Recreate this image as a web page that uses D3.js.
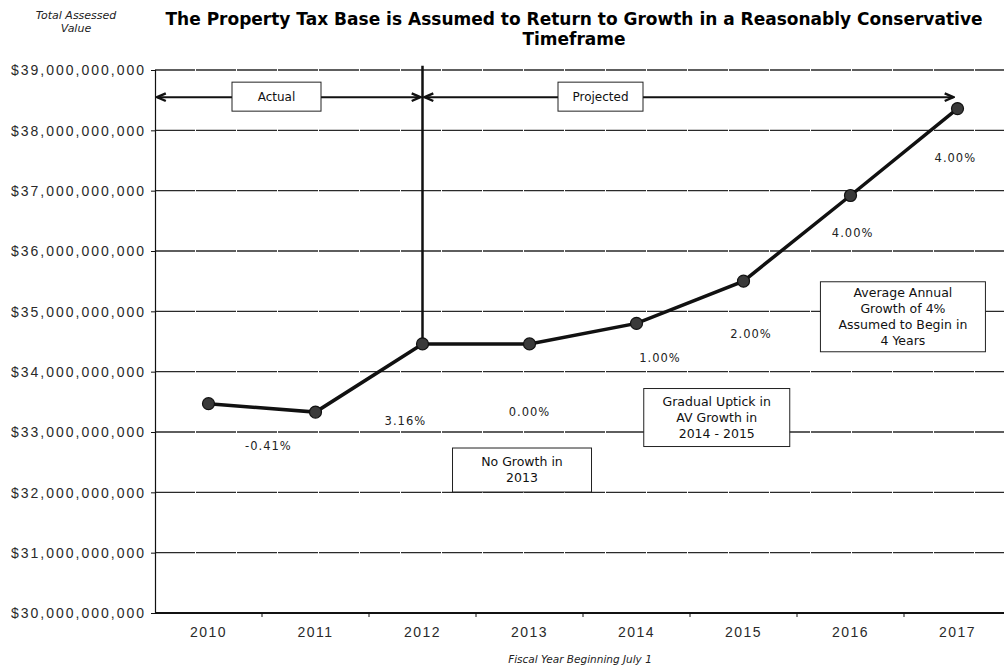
<!DOCTYPE html>
<html>
<head>
<meta charset="utf-8">
<script src="https://cdn.jsdelivr.net/npm/d3@7"></script>
<style>
  body { margin: 0; background: #fff; }
  svg { display: block; font-family: "DejaVu Sans", sans-serif; }
  .tick-label { fill: #2a2a2a; font-size: 14px; letter-spacing: 2px; }
  .xtick-label { fill: #2a2a2a; font-size: 14px; letter-spacing: 1.5px; }
  .growth { fill: #222; font-size: 11.5px; letter-spacing: 1px; }
  .box-text { fill: #111; font-size: 12.5px; }
</style>
</head>
<body>
<div id="chart"></div>
<script>
// data
const years = ["2010", "2011", "2012", "2013", "2014", "2015", "2016", "2017"];
const assessedValue = [33.47e9, 33.33e9, 34.46e9, 34.46e9, 34.80e9, 35.50e9, 36.92e9, 38.36e9];
const growthLabels = ["-0.41%", "3.16%", "0.00%", "1.00%", "2.00%", "4.00%", "4.00%"];
const yTicks = [30e9, 31e9, 32e9, 33e9, 34e9, 35e9, 36e9, 37e9, 38e9, 39e9];

const width = 1006, height = 672;
const margin = {top: 70, right: 2, bottom: 59, left: 155};

const svg = d3.select("#chart").append("svg")
    .attr("width", width)
    .attr("height", height);

// scales
const x = d3.scaleBand()
    .domain(years)
    .range([margin.left, margin.left + 856]);
const xc = d => x(d) + x.bandwidth() / 2;
const xi = i => x(years[0]) + x.bandwidth() * (i + 0.5);   // fractional category index
const y = d3.scaleLinear()
    .domain([30e9, 39e9])
    .range([height - margin.bottom, margin.top]);
const plotRight = width - margin.right;

// title
svg.append("text")
    .attr("x", 574).attr("y", 25)
    .attr("text-anchor", "middle")
    .style("font-size", "17px").style("font-weight", "bold")
    .text("The Property Tax Base is Assumed to Return to Growth in a Reasonably Conservative");
svg.append("text")
    .attr("x", 574).attr("y", 45)
    .attr("text-anchor", "middle")
    .style("font-size", "17px").style("font-weight", "bold")
    .text("Timeframe");

// y axis title
const yTitle = svg.append("text")
    .attr("text-anchor", "middle")
    .style("font-size", "11px").style("font-style", "italic").attr("fill", "#222");
yTitle.append("tspan").attr("x", 76).attr("y", 19).text("Total Assessed");
yTitle.append("tspan").attr("x", 76).attr("y", 32).text("Value");

// gridlines
svg.append("g")
    .selectAll("line")
    .data(yTicks.filter(d => d > 30e9))
    .join("line")
    .attr("x1", margin.left).attr("x2", plotRight)
    .attr("y1", d => y(d)).attr("y2", d => y(d))
    .attr("stroke", "#2a2a2a")
    .attr("stroke-width", 1.3)
    .attr("stroke-dasharray", "40,1");

// y axis
const yAxis = d3.axisLeft(y)
    .tickValues(yTicks)
    .tickSize(4)
    .tickFormat(d => "$" + d3.format(",")(d));
const gy = svg.append("g")
    .attr("transform", `translate(${margin.left},0)`)
    .call(yAxis);
gy.select(".domain").attr("stroke", "#111").attr("stroke-width", 1.2);
gy.selectAll(".tick line").attr("stroke", "#111");
gy.selectAll(".tick text").attr("class", "tick-label").attr("x", -9).attr("dy", "0.35em");

// x axis
const xAxis = d3.axisBottom(x).tickSize(0).tickSizeOuter(0);
const gx = svg.append("g")
    .attr("transform", `translate(0,${y(30e9)})`)
    .call(xAxis);
gx.select(".domain").attr("d", `M${margin.left},0H${plotRight}`)
    .attr("stroke", "#111").attr("stroke-width", 1.8);
gx.selectAll(".tick text").attr("class", "xtick-label").attr("y", 14).attr("dy", "0.71em");
gx.selectAll(".bound")
    .data(years.slice(1))
    .join("line")
    .attr("class", "bound")
    .attr("x1", d => x(d)).attr("x2", d => x(d))
    .attr("y1", 0).attr("y2", 4)
    .attr("stroke", "#111");

// x axis title
svg.append("text")
    .attr("x", 580).attr("y", 663)
    .attr("text-anchor", "middle")
    .style("font-size", "10.5px").style("font-style", "italic").attr("fill", "#222")
    .text("Fiscal Year Beginning July 1");

// arrow markers
const defs = svg.append("defs");
defs.append("marker")
    .attr("id", "head")
    .attr("viewBox", "0 0 10 10")
    .attr("refX", 9).attr("refY", 5)
    .attr("markerWidth", 11).attr("markerHeight", 11)
    .attr("markerUnits", "userSpaceOnUse")
    .attr("orient", "auto-start-reverse")
    .append("path")
    .attr("d", "M1,1.5L9,5L1,8.5")
    .attr("fill", "none").attr("stroke", "#111").attr("stroke-width", 2.2);

// actual / projected divider
const splitYear = "2012";
const arrowY = y(38.55e9);
svg.append("line")
    .attr("x1", xc(splitYear)).attr("x2", xc(splitYear))
    .attr("y1", y(39.07e9)).attr("y2", y(assessedValue[years.indexOf(splitYear)]))
    .attr("stroke", "#111").attr("stroke-width", 2.5);

const arrows = [
    {label: "Actual", x1: margin.left + 2, x2: xc(splitYear) - 2, bx: 232, bw: 89},
    {label: "Projected", x1: xc(splitYear) + 2, x2: xc(years[years.length - 1]) - 4, bx: 558, bw: 85}
];
arrows.forEach(a => {
    svg.append("line")
        .attr("x1", a.x1).attr("x2", a.x2)
        .attr("y1", arrowY).attr("y2", arrowY)
        .attr("stroke", "#111").attr("stroke-width", 2)
        .attr("marker-start", "url(#head)")
        .attr("marker-end", "url(#head)");
    svg.append("rect")
        .attr("x", a.bx).attr("y", arrowY - 15)
        .attr("width", a.bw).attr("height", 29)
        .attr("fill", "#fff").attr("stroke", "#222").attr("stroke-width", 1);
    svg.append("text")
        .attr("class", "box-text")
        .attr("x", a.bx + a.bw / 2).attr("y", arrowY)
        .attr("dy", "0.35em").attr("text-anchor", "middle")
        .style("font-size", "12px")
        .text(a.label);
});

// line and markers
const line = d3.line()
    .x((d, i) => xc(years[i]))
    .y(d => y(d));
svg.append("path")
    .datum(assessedValue)
    .attr("d", line)
    .attr("fill", "none")
    .attr("stroke", "#111")
    .attr("stroke-width", 3.5);
svg.append("g")
    .selectAll("circle")
    .data(assessedValue)
    .join("circle")
    .attr("cx", (d, i) => xc(years[i]))
    .attr("cy", d => y(d))
    .attr("r", 6)
    .attr("fill", "#3a3a3a")
    .attr("stroke", "#111")
    .attr("stroke-width", 1.2);

// growth rate labels (anchored in category index / value units)
const growthAnchors = [[0.56, 32.77e9], [1.84, 33.18e9], [3.0, 33.33e9], [4.22, 34.22e9],
    [5.07, 34.63e9], [6.02, 36.30e9], [6.98, 37.55e9]];
svg.append("g")
    .selectAll("text")
    .data(growthLabels)
    .join("text")
    .attr("class", "growth")
    .attr("x", (d, i) => xi(growthAnchors[i][0]))
    .attr("y", (d, i) => y(growthAnchors[i][1]))
    .attr("dy", "0.35em")
    .attr("text-anchor", "middle")
    .text(d => d);

// annotation boxes
const notes = [
    {lines: ["No Growth in", "2013"], ci: 2.93, v: 32.37e9, w: 139, h: 44},
    {lines: ["Gradual Uptick in", "AV Growth in", "2014 - 2015"], ci: 4.75, v: 33.24e9, w: 146, h: 58},
    {lines: ["Average Annual", "Growth of 4%", "Assumed to Begin in", "4 Years"], ci: 6.49, v: 34.91e9, w: 165, h: 70}
];
notes.forEach(n => {
    const cx = xi(n.ci), cy = y(n.v);
    svg.append("rect")
        .attr("x", cx - n.w / 2).attr("y", cy - n.h / 2)
        .attr("width", n.w).attr("height", n.h)
        .attr("fill", "#fff").attr("stroke", "#222").attr("stroke-width", 1);
    const lh = 16;
    svg.append("text")
        .attr("class", "box-text")
        .attr("text-anchor", "middle")
        .selectAll("tspan")
        .data(n.lines)
        .join("tspan")
        .attr("x", cx)
        .attr("y", (d, i) => cy + (i - (n.lines.length - 1) / 2) * lh)
        .attr("dy", "0.35em")
        .text(d => d);
});
</script>
</body>
</html>
